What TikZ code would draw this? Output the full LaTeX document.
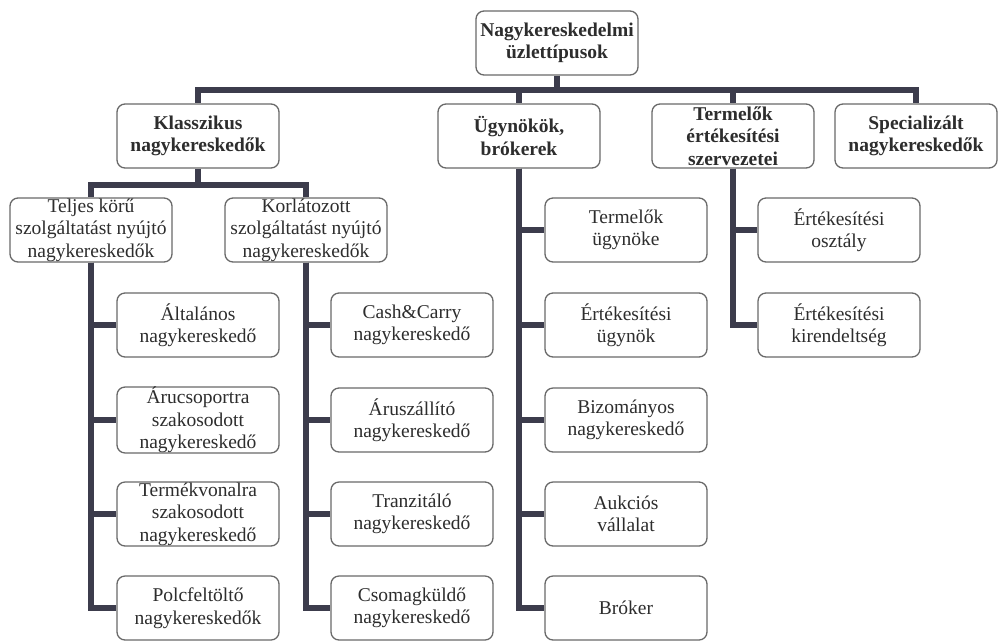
\documentclass[tikz,border=0pt]{standalone}
\usepackage{fontspec}
\setmainfont{Liberation Serif}
\definecolor{barc}{RGB}{60,60,76}
\definecolor{framec}{RGB}{105,105,105}
\definecolor{textc}{RGB}{45,45,45}
\begin{document}
\begin{tikzpicture}
  [x=1pt,y=-1pt,
   every node/.style={draw=framec,line width=1.3pt,rounded corners=8pt,fill=white,
     minimum width=162pt,minimum height=64pt,inner sep=0pt,align=center,
     text=textc,font=\fontsize{19.5}{22.5}\selectfont},
   head/.style={font=\fontsize{19.5}{22.5}\selectfont\bfseries},
   conn/.style={draw=barc,line width=6pt}]
  \useasboundingbox (0,0) rectangle (998,641);
  \node[head] (root) at (557,43) {Nagykereskedelmi\\üzlettípusok};
  \node[head] (klass) at (198,136) {Klasszikus\\nagykereskedők};
  \node[head] (ugy) at (519,136) {Ügynökök,\\brókerek};
  \node[head] (term) at (733,136) {Termelők\\értékesítési\\szervezetei};
  \node[head] (spec) at (916,136) {Specializált\\nagykereskedők};
  \node (telj) at (91,230) {Teljes körű\\szolgáltatást nyújtó\\nagykereskedők};
  \node (korl) at (306,230) {Korlátozott\\szolgáltatást nyújtó\\nagykereskedők};
  \node (alt) at (198,325) {Általános\\nagykereskedő};
  \node (aru) at (198,420) {Árucsoportra\\szakosodott\\nagykereskedő};
  \node (termv) at (198,514) {Termékvonalra\\szakosodott\\nagykereskedő};
  \node (polc) at (198,608) {Polcfeltöltő\\nagykereskedők};
  \node (cash) at (412,325) {Cash\&Carry\\nagykereskedő};
  \node (arusz) at (412,420) {Áruszállító\\nagykereskedő};
  \node (tranz) at (412,514) {Tranzitáló\\nagykereskedő};
  \node (csom) at (412,608) {Csomagküldő\\nagykereskedő};
  \node (tugy) at (626,230) {Termelők\\ügynöke};
  \node (eugy) at (626,325) {Értékesítési\\ügynök};
  \node (biz) at (626,420) {Bizományos\\nagykereskedő};
  \node (auk) at (626,514) {Aukciós\\vállalat};
  \node (brok) at (626,608) {Bróker};
  \node (eo) at (839,230) {Értékesítési\\osztály};
  \node (ek) at (839,325) {Értékesítési\\kirendeltség};

  % gyujtovonalak
  \coordinate (b0) at (557,90);
  \coordinate (b1) at (198,185);
  \draw[conn] (root.south) -- (b0);
  \draw[conn] (klass.south) -- (b1);
  \foreach \to in {klass,ugy,term,spec}
    \draw[conn] (b0) -| (\to.north);
  \foreach \to in {telj,korl}
    \draw[conn] (b1) -| (\to.north);

  \foreach \from/\to in {telj/alt,telj/aru,telj/termv,telj/polc,korl/cash,korl/arusz,korl/tranz,korl/csom,ugy/tugy,ugy/eugy,ugy/biz,ugy/auk,ugy/brok,term/eo,term/ek}
    \draw[conn] (\from.south) |- (\to.west);

\end{tikzpicture}
\end{document}
